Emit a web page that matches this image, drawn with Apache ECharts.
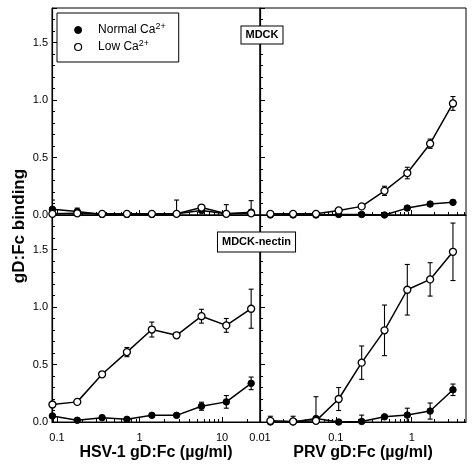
<!DOCTYPE html>
<html>
<head>
<meta charset="utf-8">
<script src="https://cdn.jsdelivr.net/npm/echarts@6/dist/echarts.min.js"></script>
<style>html,body{margin:0;padding:0;background:#fff}#c{width:474px;height:467px}</style>
</head>
<body>
<div id="c"></div>
<script>
// ---- data ----
const hsvX = [0.088, 0.176, 0.352, 0.703, 1.41, 2.81, 5.63, 11.25, 22.5];
const prvX = [0.0137, 0.0273, 0.0547, 0.109, 0.219, 0.438, 0.875, 1.75, 3.5];

// MDCK, HSV-1
const mdckHsvNormal    = [0.05, 0.03, 0.005, 0.005, 0.005, 0.01, 0.04, 0.01, 0.025];
const mdckHsvNormalErr = [0.08, 0.03, 0, 0, 0, 0.12, 0.015, 0.08, 0.1];
const mdckHsvLow       = [0.01, 0.015, 0.01, 0.01, 0.01, 0.01, 0.065, 0.01, 0.015];
const mdckHsvLowErr    = [0, 0, 0, 0, 0, 0, 0.015, 0, 0];

// MDCK, PRV
const mdckPrvNormal    = [0, 0, 0, 0.005, 0.005, 0, 0.06, 0.095, 0.11];
const mdckPrvNormalErr = [0, 0, 0, 0, 0, 0, 0.02, 0.015, 0.01];
const mdckPrvLow       = [0.01, 0.01, 0.01, 0.04, 0.075, 0.21, 0.365, 0.62, 0.97];
const mdckPrvLowErr    = [0, 0, 0, 0.01, 0.01, 0.04, 0.05, 0.04, 0.06];

// MDCK-nectin, HSV-1
const nectinHsvNormal    = [0.053, 0.015, 0.038, 0.023, 0.058, 0.058, 0.137, 0.175, 0.336];
const nectinHsvNormalErr = [0.02, 0, 0.01, 0.01, 0.015, 0.015, 0.035, 0.055, 0.055];
const nectinHsvLow       = [0.152, 0.175, 0.415, 0.608, 0.804, 0.754, 0.92, 0.84, 0.985];
const nectinHsvLowErr    = [0.015, 0.01, 0.01, 0.04, 0.065, 0.01, 0.06, 0.06, 0.17];

// MDCK-nectin, PRV
const nectinPrvNormal    = [0.0, 0.0, 0.03, 0.0, 0.005, 0.045, 0.06, 0.095, 0.28];
const nectinPrvNormalErr = [0, 0, 0.19, 0, 0.055, 0.01, 0.06, 0.07, 0.05];
const nectinPrvLow       = [0.01, 0.005, 0.01, 0.2, 0.516, 0.797, 1.15, 1.24, 1.48];
const nectinPrvLowErr    = [0.04, 0.045, 0, 0.1, 0.145, 0.22, 0.22, 0.145, 0.25];

const hsvTickLabels = [0.1, 1, 10];
const prvTickLabels = [0.01, 0.1, 1];
const hsvRange = [0.087, 28.8];
const prvRange = [0.01, 5.2];

// ---- chart ----
const FONT = '"Liberation Sans", Arial, sans-serif';
const chart = echarts.init(document.getElementById('c'), null, {renderer: 'canvas'});

function minorVals(range) {
  const out = [];
  for (let e = -3; e <= 2; e++) {
    for (let m = 2; m <= 9; m++) {
      const v = m * Math.pow(10, e);
      if (v > range[0] && v < range[1]) out.push(+v.toPrecision(3));
    }
  }
  return out;
}
function logFmt(v) {
  const l = Math.log10(v);
  if (Math.abs(l - Math.round(l)) < 1e-6) return String(+v.toPrecision(3));
  return '';
}

const grids = [
  {left: 52, top: 8, width: 208, height: 207},
  {left: 260, top: 8, width: 206, height: 207},
  {left: 52, top: 215, width: 208, height: 207},
  {left: 260, top: 215, width: 206, height: 207}
].map(g => Object.assign(g, {show: true, borderColor: '#000', borderWidth: 1, containLabel: false}));

const panels = [
  {x: hsvX, range: hsvRange, ticks: hsvTickLabels, normal: mdckHsvNormal, normalErr: mdckHsvNormalErr, low: mdckHsvLow, lowErr: mdckHsvLowErr, showX: false, showY: true, name: ''},
  {x: prvX, range: prvRange, ticks: prvTickLabels, normal: mdckPrvNormal, normalErr: mdckPrvNormalErr, low: mdckPrvLow, lowErr: mdckPrvLowErr, showX: false, showY: false, name: ''},
  {x: hsvX, range: hsvRange, ticks: hsvTickLabels, normal: nectinHsvNormal, normalErr: nectinHsvNormalErr, low: nectinHsvLow, lowErr: nectinHsvLowErr, showX: true, showY: true, name: 'HSV-1 gD:Fc (µg/ml)'},
  {x: prvX, range: prvRange, ticks: prvTickLabels, normal: nectinPrvNormal, normalErr: nectinPrvNormalErr, low: nectinPrvLow, lowErr: nectinPrvLowErr, showX: true, showY: false, name: 'PRV gD:Fc (µg/ml)'}
];

const xAxes = [], yAxes = [], series = [];

function errRender(params, api) {
  const x = api.value(0), lo = api.value(1), hi = api.value(2);
  const p1 = api.coord([x, hi]), p2 = api.coord([x, lo]);
  const cw = 2.5;
  const st = {stroke: '#000', lineWidth: 1.1};
  return {type: 'group', children: [
    {type: 'line', shape: {x1: p1[0], y1: p1[1], x2: p2[0], y2: p2[1]}, style: st},
    {type: 'line', shape: {x1: p1[0] - cw, y1: p1[1], x2: p1[0] + cw, y2: p1[1]}, style: st},
    {type: 'line', shape: {x1: p2[0] - cw, y1: p2[1], x2: p2[0] + cw, y2: p2[1]}, style: st}
  ]};
}

panels.forEach((p, i) => {
  const xi = xAxes.length;
  xAxes.push({
    type: 'log', logBase: 10, gridIndex: i, min: p.range[0], max: p.range[1], position: 'bottom',
    axisLine: {show: true, lineStyle: {color: '#000', width: 1.2}},
    axisTick: {show: true, inside: true, length: 5, customValues: p.ticks, lineStyle: {color: '#000'}},
    axisLabel: {show: p.showX, customValues: p.ticks, formatter: logFmt, color: '#000', fontSize: 11, fontFamily: FONT, margin: 10},
    splitLine: {show: false},
    name: p.name, nameLocation: 'middle', nameGap: 23,
    nameTextStyle: {color: '#000', fontSize: 16, fontWeight: 'bold', fontFamily: FONT}
  });
  xAxes.push({
    type: 'log', logBase: 10, gridIndex: i, min: p.range[0], max: p.range[1], position: 'bottom',
    axisLine: {show: false},
    axisTick: {show: true, inside: true, length: 3, customValues: minorVals(p.range), lineStyle: {color: '#000'}},
    axisLabel: {show: false},
    splitLine: {show: false}
  });
  yAxes.push({
    type: 'value', gridIndex: i, min: 0, max: 1.8, interval: 0.5,
    axisLine: {show: true, lineStyle: {color: '#000', width: 1.2}},
    axisTick: {show: true, inside: true, length: 5, lineStyle: {color: '#000'}},
    minorTick: {show: true, splitNumber: 5, length: 3, lineStyle: {color: '#000'}},
    axisLabel: {show: p.showY, color: '#000', fontSize: 11, fontFamily: FONT, margin: 4,
      formatter: v => (Math.abs(v * 2 - Math.round(v * 2)) < 1e-6 ? v.toFixed(1) : '')},
    splitLine: {show: false}
  });
  const mk = (vals, errs) => p.x.map((x, k) => errs[k] > 0 ? [x, Math.max(0, vals[k] - errs[k]), vals[k] + errs[k]] : null).filter(d => d);
  series.push({type: 'custom', name: 'errN' + i, xAxisIndex: xi, yAxisIndex: i, renderItem: errRender, data: mk(p.normal, p.normalErr), encode: {x: 0, y: [1, 2]}, z: 1, clip: true, silent: true});
  series.push({type: 'custom', name: 'errL' + i, xAxisIndex: xi, yAxisIndex: i, renderItem: errRender, data: mk(p.low, p.lowErr), encode: {x: 0, y: [1, 2]}, z: 1, clip: true, silent: true});
  series.push({
    type: 'line', name: 'Normal', xAxisIndex: xi, yAxisIndex: i,
    data: p.x.map((x, k) => [x, p.normal[k]]),
    symbol: 'circle', symbolSize: 6.5, showAllSymbol: true,
    itemStyle: {color: '#000', borderColor: '#000', borderWidth: 1},
    lineStyle: {color: '#000', width: 1.5}, z: 3, animation: false
  });
  series.push({
    type: 'line', name: 'Low', xAxisIndex: xi, yAxisIndex: i,
    data: p.x.map((x, k) => [x, p.low[k]]),
    symbol: 'circle', symbolSize: 7, showAllSymbol: true,
    itemStyle: {color: '#fff', borderColor: '#000', borderWidth: 1.3},
    lineStyle: {color: '#000', width: 1.5}, z: 4, animation: false
  });
});

const option = {
  animation: false,
  backgroundColor: '#fff',
  textStyle: {fontFamily: FONT},
  grid: grids,
  xAxis: xAxes,
  yAxis: yAxes,
  legend: {
    left: 57, top: 13, orient: 'vertical', selectedMode: false,
    borderColor: '#000', borderWidth: 1, padding: [9, 13, 9, 17],
    itemWidth: 30, itemHeight: 7, itemGap: 3,
    data: [
      {name: 'Normal', icon: 'circle', itemStyle: {color: '#000', borderColor: '#000', borderWidth: 1}},
      {name: 'Low', icon: 'circle', itemStyle: {color: '#fff', borderColor: '#000', borderWidth: 1.2}}
    ],
    formatter: n => n === 'Normal' ? '{t|Normal Ca}{s|2+}' : '{t|Low Ca}{s|2+}',
    textStyle: {color: '#000', fontFamily: FONT, rich: {
      t: {fontSize: 12, lineHeight: 16, color: '#000', fontFamily: FONT},
      s: {fontSize: 9, lineHeight: 9, verticalAlign: 'top', color: '#000', fontFamily: FONT}
    }}
  },
  graphic: [
    {type: 'text', x: 19, y: 226, rotation: Math.PI / 2, z: 10,
      style: {text: 'gD:Fc binding', font: 'bold 17px ' + FONT, fill: '#000', align: 'center', verticalAlign: 'middle'}},
    {type: 'text', x: 262, y: 35, z: 10,
      style: {text: 'MDCK', font: 'bold 11px ' + FONT, fill: '#000', align: 'center', verticalAlign: 'middle',
        backgroundColor: '#fff', borderColor: '#000', borderWidth: 1, padding: [3, 4, 3, 4]}},
    {type: 'text', x: 256.5, y: 242, z: 10,
      style: {text: 'MDCK-nectin', font: 'bold 11px ' + FONT, fill: '#000', align: 'center', verticalAlign: 'middle',
        backgroundColor: '#fff', borderColor: '#000', borderWidth: 1, padding: [4, 4, 4, 4]}}
  ],
  series: series
};
chart.setOption(option);
</script>
</body>
</html>
